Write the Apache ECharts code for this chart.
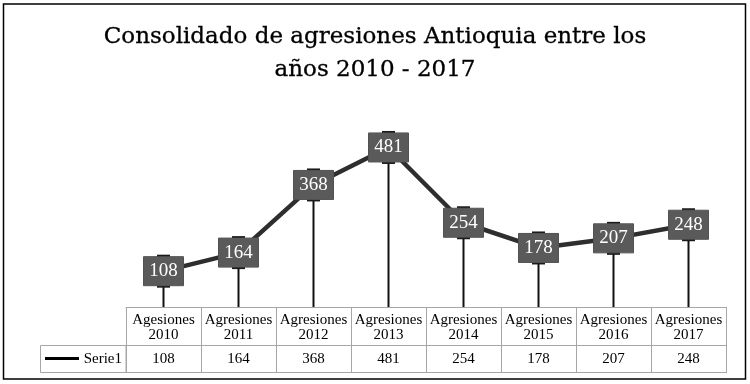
<!DOCTYPE html>
<html><head><meta charset="utf-8">
<script src="https://cdn.jsdelivr.net/npm/echarts@6/dist/echarts.min.js"></script>
<style>html,body{margin:0;padding:0;background:#fff}#c{width:750px;height:384px}</style>
</head><body><div id="c"></div>
<script>
var categories = ['Agesiones\n2010','Agresiones\n2011','Agresiones\n2012','Agresiones\n2013','Agresiones\n2014','Agresiones\n2015','Agresiones\n2016','Agresiones\n2017'];
var values = [108,164,368,481,254,178,207,248];
var seriesName = 'Serie1';
var titleText = 'Consolidado de agresiones Antioquia entre los\naños 2010 - 2017';

var serif = "'Liberation Serif', 'DejaVu Serif', serif";
var tableLine = '#a6a6a6';
var chart = echarts.init(document.getElementById('c'), null, {renderer:'canvas'});
chart.setOption({
  animation:false,
  backgroundColor:'#fff',
  title:{text:titleText,left:'center',top:16,textStyle:{fontFamily:"'DejaVu Serif', serif",fontSize:23,fontWeight:'normal',color:'#000',lineHeight:33,textBorderColor:'#000',textBorderWidth:0.3}},
  grid:{left:126,right:24,top:108,height:199,containLabel:false},
  xAxis:[
    {type:'category',data:categories,boundaryGap:true,
     axisLine:{show:true,lineStyle:{color:tableLine,width:1}},
     axisTick:{show:true,length:66,lineStyle:{color:tableLine,width:1}},
     axisLabel:{fontFamily:serif,fontSize:15,lineHeight:15,color:'#000',margin:6,interval:0}},
    {type:'category',data:values.map(String),boundaryGap:true,position:'bottom',offset:38,
     axisLine:{show:true,lineStyle:{color:tableLine,width:1}},axisTick:{show:false},
     axisLabel:{fontFamily:serif,fontSize:15,color:'#000',margin:7,interval:0}},
    {type:'category',data:values.map(String),boundaryGap:true,position:'bottom',offset:65,
     axisLine:{show:true,lineStyle:{color:tableLine,width:1}},axisTick:{show:false},axisLabel:{show:false}}
  ],
  yAxis:{type:'value',min:0,max:600,show:false,splitLine:{show:false}},
  series:[
    {type:'bar',name:'drop',data:values,barWidth:2,itemStyle:{color:'#111'},z:1,silent:true},
    {type:'line',name:seriesName,data:values,z:3,
     lineStyle:{color:'#2e2e2e',width:4.5},
     symbol:'rect',symbolSize:[13,33],itemStyle:{color:'#1a1a1a'},
     label:{show:true,position:'inside',formatter:'{c}',fontFamily:serif,fontSize:19,color:'#fff',
       backgroundColor:'#5a5a5a',width:28,align:'center',padding:[5,6,5,6],lineHeight:19,borderColor:'#4a4a4a',borderWidth:0.5}}
  ],
  graphic:[
    {type:'rect',shape:{x:3.5,y:4,width:742,height:375},style:{fill:'none',stroke:'#000',lineWidth:1.5},silent:true},
    {type:'rect',shape:{x:40.5,y:345.5,width:85.5,height:27},style:{fill:'none',stroke:tableLine,lineWidth:1},silent:true},
    {type:'line',shape:{x1:45,y1:358.5,x2:79,y2:358.5},style:{stroke:'#000',lineWidth:3},silent:true},
    {type:'text',style:{x:122,y:359,text:seriesName,textAlign:'right',textVerticalAlign:'middle',font:"15px 'Liberation Serif'",fill:'#000'},silent:true}
  ]
});
</script></body></html>
